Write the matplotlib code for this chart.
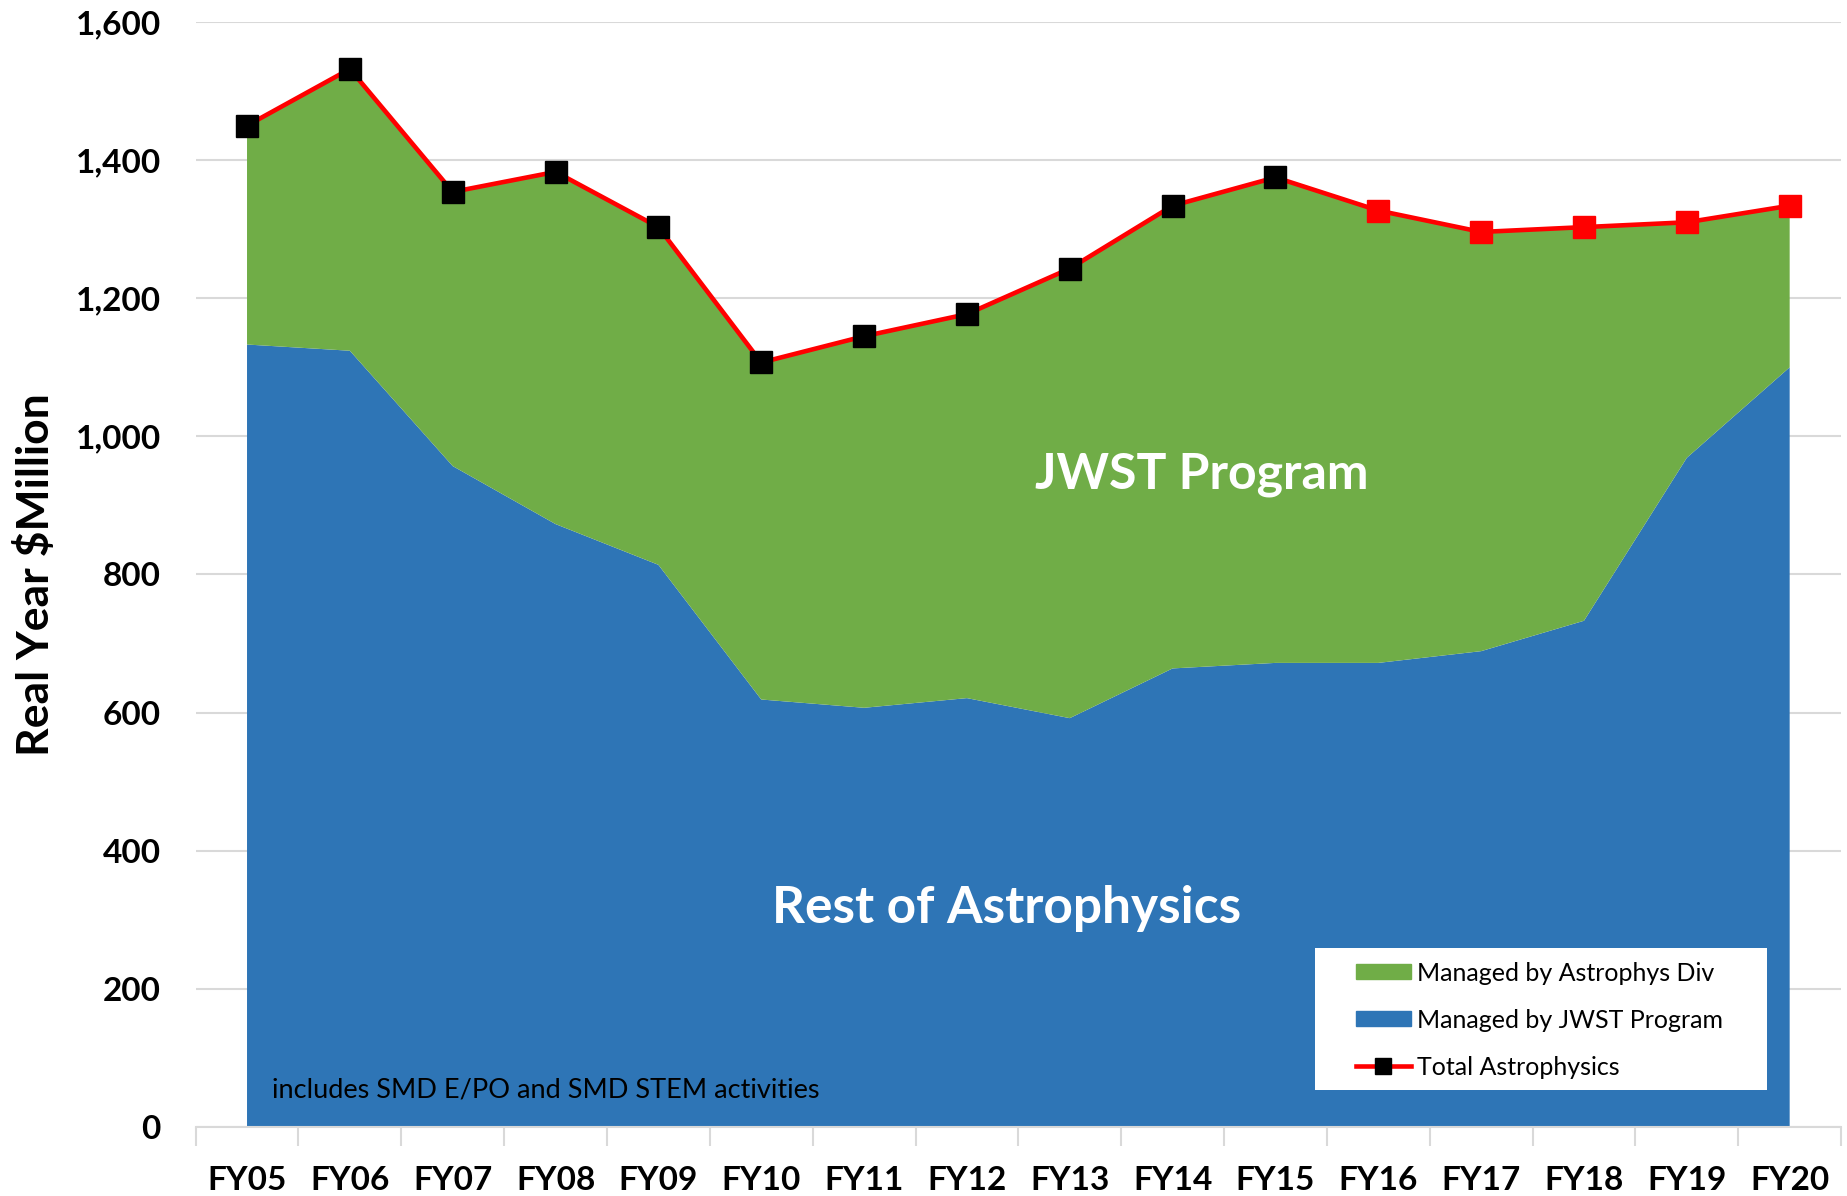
import matplotlib.pyplot as plt
from matplotlib.patches import Patch, Rectangle
from matplotlib.lines import Line2D
import numpy as np

plt.rcParams['font.family'] = ['Lato', 'DejaVu Sans']

years = ['FY05', 'FY06', 'FY07', 'FY08', 'FY09', 'FY10', 'FY11', 'FY12',
         'FY13', 'FY14', 'FY15', 'FY16', 'FY17', 'FY18', 'FY19', 'FY20']
rest_astro = [1133, 1124, 957, 873, 814, 619, 607, 621,
              592, 664, 672, 672, 689, 733, 969, 1100]
jwst = [317, 408, 397, 510, 489, 488, 538, 556,
        651, 670, 703, 655, 607, 570, 341, 234]
n_actual = 11  # FY05-FY15 actuals (black), rest planned (red)

green = '#70AD47'
blue = '#2E75B6'
red = '#FF0000'

x = np.arange(len(years))
rest_astro = np.array(rest_astro)
jwst = np.array(jwst)
total = rest_astro + jwst

fig = plt.figure(figsize=(18.47, 11.96), dpi=100)
ax = fig.add_axes([0.1059, 0.0577, 0.8909, 0.9239])

ax.stackplot(x, rest_astro, jwst, colors=[blue, green], zorder=2)
ax.plot(x, total, color=red, lw=3.3, zorder=3)
ax.plot(x[:n_actual], total[:n_actual], 's', color='black', ms=15.5, zorder=4)
ax.plot(x[n_actual:], total[n_actual:], 's', color=red, ms=15.5, zorder=4)

ax.set_xlim(-0.5, len(years) - 0.5)
ax.set_ylim(0, 1600)
ax.set_yticks(range(0, 1601, 200))
ax.set_yticklabels([f'{v:,}' for v in range(0, 1601, 200)])
ax.grid(axis='y', color='#D9D9D9', lw=1.5, zorder=0)
ax.set_axisbelow(True)

ax.set_xticks(x)
ax.set_xticklabels(years)
ax.set_xticks(np.arange(-0.5, len(years), 1), minor=True)
ax.tick_params(axis='x', which='major', length=0, pad=28, labelsize=24)
ax.tick_params(axis='x', which='minor', length=14, color='#D9D9D9', width=1.5)
ax.tick_params(axis='y', length=0, pad=25, labelsize=24)
for lab in ax.get_xticklabels() + ax.get_yticklabels():
    lab.set_fontweight('bold')

for s in ['top', 'right', 'left']:
    ax.spines[s].set_visible(False)
ax.spines['bottom'].set_color('#D9D9D9')
ax.spines['bottom'].set_linewidth(1.5)

ax.set_ylabel('Real Year $Million', fontsize=32, fontweight='bold', labelpad=14)

ax.text(9.28, 945, 'JWST Program', color='white', fontsize=36,
        fontweight='bold', ha='center', va='center', zorder=5)
ax.text(7.39, 317, 'Rest of Astrophysics', color='white', fontsize=37,
        fontweight='bold', ha='center', va='center', zorder=5)
ax.text(0.245, 53, 'includes SMD E/PO and SMD STEM activities', color='black',
        fontsize=19.5, ha='left', va='center', zorder=5)

# white legend box
ax.add_patch(Rectangle((0.680, 0.0335), 0.275, 0.1285, transform=ax.transAxes,
                       facecolor='white', edgecolor='none', zorder=6))
handles = [Patch(color=green, label='Managed by Astrophys Div'),
           Patch(color=blue, label='Managed by JWST Program'),
           Line2D([], [], color=red, lw=3.3, marker='s', ms=11, mfc='black',
                  mec='black', label='Total Astrophysics')]
leg = ax.legend(handles=handles, loc='center left', bbox_to_anchor=(0.705, 0.0968),
                fontsize=18, frameon=False, handlelength=2.2, handleheight=0.56,
                handletextpad=0.25, labelspacing=0.96, borderpad=0, borderaxespad=0)
leg.set_zorder(7)

fig.savefig('out.png', dpi=100)
